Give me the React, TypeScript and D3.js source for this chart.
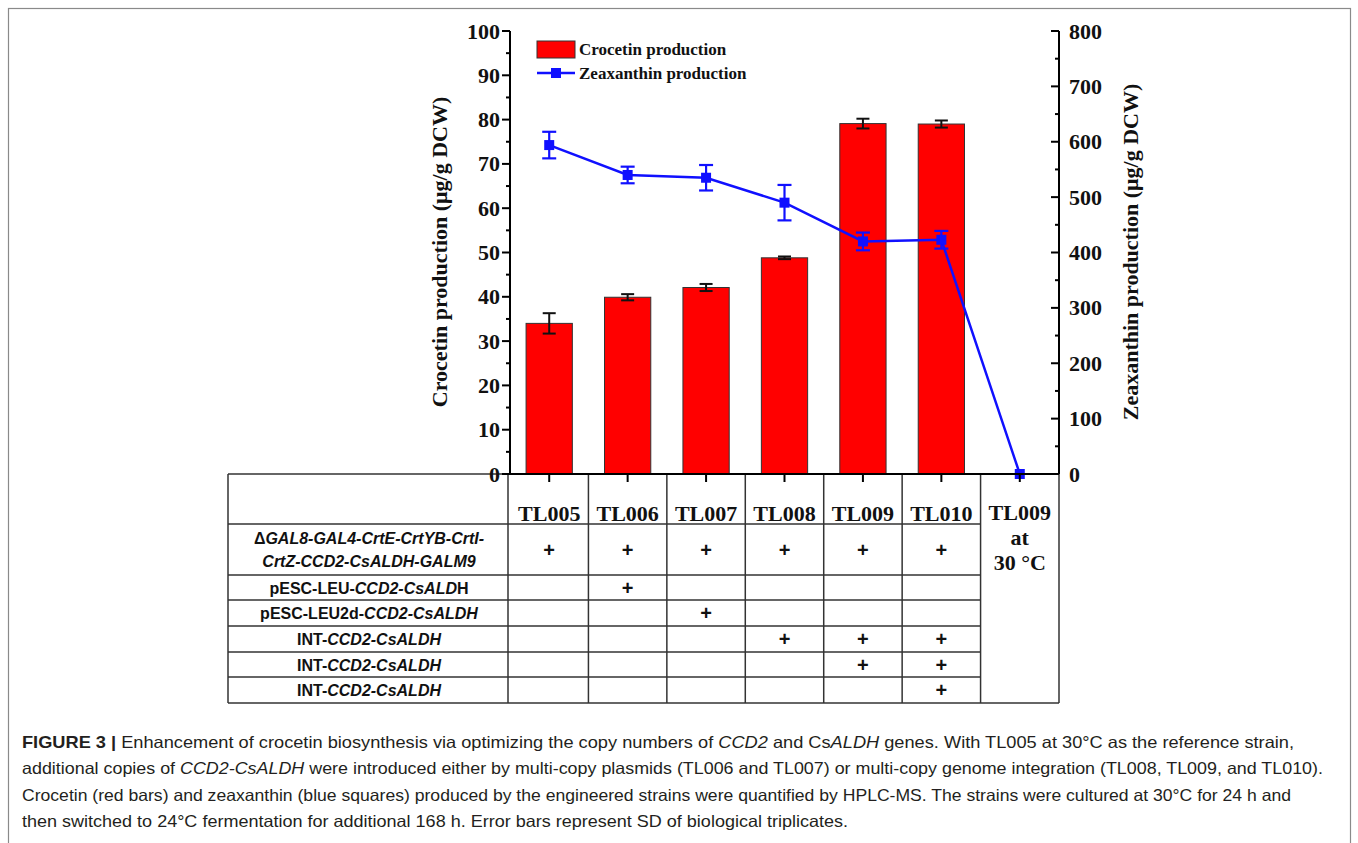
import React from "react";
import * as d3 from "d3";

const strains = ["TL005", "TL006", "TL007", "TL008", "TL009", "TL010", "TL009 at 30 °C"];
const crocetin = [34.0, 39.9, 42.1, 48.8, 79.1, 79.0, null];
const crocetinSd = [2.3, 0.7, 0.8, 0.3, 1.1, 0.8, null];
const zeaxanthin = [594, 540, 535, 490, 420, 423, 0];
const zeaxanthinSd = [24, 15, 23, 32, 16, 16, 0];
const leftTicks = [0, 10, 20, 30, 40, 50, 60, 70, 80, 90, 100];
const rightTicks = [0, 100, 200, 300, 400, 500, 600, 700, 800];

// table rows: label segments [text, italic] and "+" marks per strain (last column is merged)
const rowLabels: [string, boolean][][][] = [
  [
    [["Δ", false], ["GAL8-GAL4-CrtE-CrtYB-CrtI-", true]],
    [["CrtZ-CCD2-CsALDH-GALM9", true]],
  ],
  [[["pESC-LEU-", false], ["CCD2-CsALD", true], ["H", false]]],
  [[["pESC-LEU2d-", false], ["CCD2-CsALDH", true]]],
  [[["INT-", false], ["CCD2-CsALDH", true]]],
  [[["INT-", false], ["CCD2-CsALDH", true]]],
  [[["INT-", false], ["CCD2-CsALDH", true]]],
];
const plusMarks = [
  [1, 1, 1, 1, 1, 1],
  [0, 1, 0, 0, 0, 0],
  [0, 0, 1, 0, 0, 0],
  [0, 0, 0, 1, 1, 1],
  [0, 0, 0, 0, 1, 1],
  [0, 0, 0, 0, 0, 1],
];

const captionLines: [string, string][][] = [
  [["b", "FIGURE 3 | "], ["n", "Enhancement of crocetin biosynthesis via optimizing the copy numbers of "], ["i", "CCD2"], ["n", " and Cs"], ["i", "ALDH"], ["n", " genes. With TL005 at 30°C as the reference strain,"]],
  [["n", "additional copies of "], ["i", "CCD2-CsALDH"], ["n", " were introduced either by multi-copy plasmids (TL006 and TL007) or multi-copy genome integration (TL008, TL009, and TL010)."]],
  [["n", "Crocetin (red bars) and zeaxanthin (blue squares) produced by the engineered strains were quantified by HPLC-MS. The strains were cultured at 30°C for 24 h and"]],
  [["n", "then switched to 24°C fermentation for additional 168 h. Error bars represent SD of biological triplicates."]],
];
const captionWidths = [1272, 1301, 1269, 826];

const serif = "'Liberation Serif', 'Times New Roman', serif";
const sans = "'Liberation Sans', Arial, sans-serif";

export default function App() {
  const width = 1358;
  const height = 843;
  const left = 510;
  const right = 1059;
  const y0 = 474;
  const yTop = 31;

  const x = d3.scaleBand<string>().domain(strains).range([left, right]).paddingInner(0).paddingOuter(0);
  const yL = d3.scaleLinear().domain([0, 100]).range([y0, yTop]);
  const yR = d3.scaleLinear().domain([0, 800]).range([y0, yTop]);
  const bw = x.bandwidth() * 0.59;
  const cx = (s: string) => (x(s) as number) + x.bandwidth() / 2;

  const line = d3
    .line<number>()
    .x((d, i) => cx(strains[i]))
    .y((d) => yR(d));

  const rowY = [474, 524, 575, 600, 626, 652, 677, 703];
  const tableLeft = 228;
  const colEdges = strains.map((s) => x(s) as number).concat([right]);

  const leftMinor = d3.range(5, 100, 10);
  const rightMinor = d3.range(50, 800, 100);

  return (
    <svg width={width} height={height} style={{ position: "absolute", left: 0, top: 0, background: "#fff" }}>
      <rect x={8.5} y={8.5} width={1342} height={860} fill="none" stroke="#8a8a8a" strokeWidth={1.2} />

      {/* bars */}
      {strains.map((s, i) =>
        crocetin[i] == null ? null : (
          <g key={"bar" + s}>
            <rect x={cx(s) - bw / 2} y={yL(crocetin[i] as number)} width={bw} height={y0 - yL(crocetin[i] as number)} fill="#ff0000" stroke="#333" strokeWidth={1} />
            <g stroke="#111" strokeWidth={2}>
              <line x1={cx(s)} x2={cx(s)} y1={yL((crocetin[i] as number) + (crocetinSd[i] as number))} y2={yL((crocetin[i] as number) - (crocetinSd[i] as number))} />
              <line x1={cx(s) - 6.5} x2={cx(s) + 6.5} y1={yL((crocetin[i] as number) + (crocetinSd[i] as number))} y2={yL((crocetin[i] as number) + (crocetinSd[i] as number))} />
              <line x1={cx(s) - 6.5} x2={cx(s) + 6.5} y1={yL((crocetin[i] as number) - (crocetinSd[i] as number))} y2={yL((crocetin[i] as number) - (crocetinSd[i] as number))} />
            </g>
          </g>
        )
      )}

      {/* zeaxanthin line */}
      <path d={line(zeaxanthin) as string} fill="none" stroke="#1010ff" strokeWidth={2.5} />
      {strains.map((s, i) => (
        <g key={"z" + s} stroke="#1010ff" strokeWidth={2.2}>
          {zeaxanthinSd[i] > 0 && (
            <>
              <line x1={cx(s)} x2={cx(s)} y1={yR(zeaxanthin[i] + zeaxanthinSd[i])} y2={yR(zeaxanthin[i] - zeaxanthinSd[i])} />
              <line x1={cx(s) - 7} x2={cx(s) + 7} y1={yR(zeaxanthin[i] + zeaxanthinSd[i])} y2={yR(zeaxanthin[i] + zeaxanthinSd[i])} />
              <line x1={cx(s) - 7} x2={cx(s) + 7} y1={yR(zeaxanthin[i] - zeaxanthinSd[i])} y2={yR(zeaxanthin[i] - zeaxanthinSd[i])} />
            </>
          )}
          <rect x={cx(s) - 5} y={yR(zeaxanthin[i]) - 5} width={10} height={10} fill="#1010ff" stroke="none" />
        </g>
      ))}

      {/* table */}
      <g stroke="#333" strokeWidth={1.5} fill="none">
        <line x1={tableLeft} x2={right} y1={rowY[0]} y2={rowY[0]} />
        {rowY.slice(1, -1).map((ry) => (
          <line key={"h" + ry} x1={tableLeft} x2={colEdges[6]} y1={ry} y2={ry} />
        ))}
        <line x1={tableLeft} x2={right} y1={rowY[7]} y2={rowY[7]} />
        <line x1={tableLeft} x2={tableLeft} y1={rowY[0]} y2={rowY[7]} />
        {colEdges.map((cxe, i) => (
          <line key={"v" + i} x1={i === 0 ? cxe - 2 : cxe} x2={i === 0 ? cxe - 2 : cxe} y1={rowY[0]} y2={rowY[7]} />
        ))}
      </g>
      {strains.slice(0, 6).map((s) => (
        <text key={"hd" + s} x={cx(s)} y={521} textAnchor="middle" fontFamily={serif} fontWeight="bold" fontSize={22} fill="#111">
          {s}
        </text>
      ))}
      {["TL009", "at", "30 °C"].map((t, k) => (
        <text key={"last" + k} x={cx(strains[6])} y={520 + k * 25} textAnchor="middle" fontFamily={serif} fontWeight="bold" fontSize={22} fill="#111">
          {t}
        </text>
      ))}
      {rowLabels.map((lines, r) => {
        const mid = (rowY[r + 1] + rowY[r + 2]) / 2;
        return lines.map((segs, k) => (
          <text key={"rl" + r + k} x={(tableLeft + colEdges[0]) / 2} y={mid + 6 + (k - (lines.length - 1) / 2) * 23} textAnchor="middle" fontFamily={sans} fontWeight="bold" fontSize={16} fill="#111">
            {segs.map(([t, it], j) => (
              <tspan key={j} fontStyle={it ? "italic" : "normal"}>
                {t}
              </tspan>
            ))}
          </text>
        ));
      })}
      {plusMarks.map((row, r) =>
        row.map((m, c) =>
          m ? (
            <text key={"p" + r + c} x={cx(strains[c])} y={(rowY[r + 1] + rowY[r + 2]) / 2 + 7} textAnchor="middle" fontFamily={sans} fontWeight="bold" fontSize={20} fill="#111">
              +
            </text>
          ) : null
        )
      )}

      {/* axes */}
      <g stroke="#000" strokeWidth={2}>
        <line x1={left} x2={right} y1={y0} y2={y0} />
        <line x1={left} x2={left} y1={yTop} y2={y0} />
        <line x1={right} x2={right} y1={yTop} y2={y0} />
        {leftTicks.map((t) => (
          <line key={"lt" + t} x1={left - 8} x2={left} y1={yL(t)} y2={yL(t)} />
        ))}
        {leftMinor.map((t) => (
          <line key={"lm" + t} x1={left - 4} x2={left} y1={yL(t)} y2={yL(t)} />
        ))}
        {rightTicks.map((t) => (
          <line key={"rt" + t} x1={right - 8} x2={right} y1={yR(t)} y2={yR(t)} />
        ))}
        {rightMinor.map((t) => (
          <line key={"rm" + t} x1={right - 4} x2={right} y1={yR(t)} y2={yR(t)} />
        ))}
        {strains.map((s) => (
          <line key={"xt" + s} x1={cx(s)} x2={cx(s)} y1={y0} y2={y0 + 8} />
        ))}
      </g>
      {leftTicks.map((t) => (
        <text key={"ll" + t} x={left - 10} y={yL(t) + 7.5} textAnchor="end" fontFamily={serif} fontWeight="bold" fontSize={22} fill="#111">
          {t}
        </text>
      ))}
      {rightTicks.map((t) => (
        <text key={"rl" + t} x={right + 10} y={yR(t) + 7.5} textAnchor="start" fontFamily={serif} fontWeight="bold" fontSize={22} fill="#111">
          {t}
        </text>
      ))}
      <text transform={`translate(447,252) rotate(-90)`} textAnchor="middle" fontFamily={serif} fontWeight="bold" fontSize={22} fill="#111">
        Crocetin production (μg/g DCW)
      </text>
      <text transform={`translate(1138,252) rotate(-90)`} textAnchor="middle" fontFamily={serif} fontWeight="bold" fontSize={22} fill="#111">
        Zeaxanthin production (μg/g DCW)
      </text>

      {/* legend */}
      <rect x={537} y={41} width={38} height={17} fill="#ff0000" stroke="#333" strokeWidth={1} />
      <text x={579} y={55} fontFamily={serif} fontWeight="bold" fontSize={17} fill="#111">
        Crocetin production
      </text>
      <line x1={537} x2={575} y1={73} y2={73} stroke="#1010ff" strokeWidth={2.5} />
      <rect x={551} y={68} width={10} height={10} fill="#1010ff" />
      <text x={579} y={79} fontFamily={serif} fontWeight="bold" fontSize={17} fill="#111">
        Zeaxanthin production
      </text>

      {/* caption */}
      {captionLines.map((segs, k) => (
        <text key={"cap" + k} x={22} y={748 + k * 26.3} fontFamily={sans} fontSize={16.5} fill="#231f20" textLength={captionWidths[k]} lengthAdjust="spacingAndGlyphs">
          {segs.map(([st, t], j) => (
            <tspan key={j} fontWeight={st === "b" ? "bold" : "normal"} fontStyle={st === "i" ? "italic" : "normal"}>
              {t}
            </tspan>
          ))}
        </text>
      ))}
    </svg>
  );
}
